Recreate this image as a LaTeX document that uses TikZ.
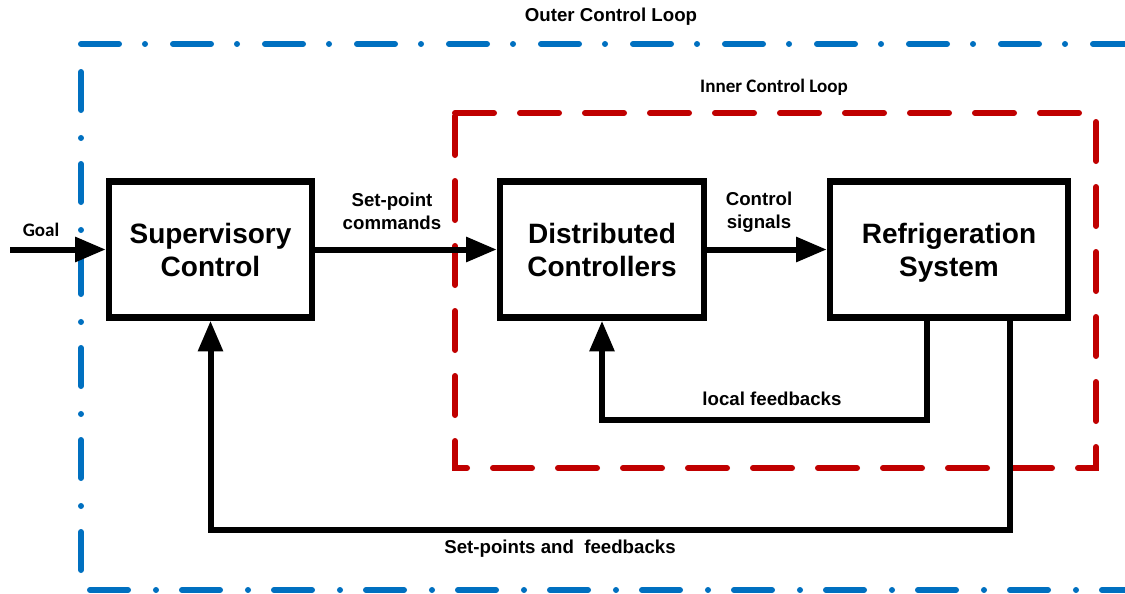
\documentclass[tikz,border=0pt]{standalone}
\usepackage{fontspec}
\setmainfont{Liberation Sans}
\newfontfamily\calfont{Carlito}
\usetikzlibrary{arrows.meta,calc}
\definecolor{loopblue}{HTML}{0070C0}
\definecolor{loopred}{HTML}{C00000}
\begin{document}
\begin{tikzpicture}[x=0.75pt,y=-0.75pt,
  box/.style={draw, line width=4.9pt, minimum height=102pt, align=center, inner sep=0pt,
    text depth=0pt, font=\bfseries\fontsize{21}{24.75}\selectfont},
  lbl/.style={align=center, inner sep=0pt, font=\bfseries\fontsize{14}{17.25}\selectfont},
  clbl/.style={align=center, inner sep=0pt, font=\calfont\bfseries\fontsize{14.3}{17}\selectfont},
  conn/.style={line width=4.5pt, -{Triangle[length=23pt,width=18pt]}},
  bluepen/.style={loopblue, line width=4.5pt, line cap=round},
  blueloop/.style={bluepen, dash pattern=on 28.5pt off 19.5pt on 0.01pt off 20.99pt},
  redloop/.style={loopred, line width=4.5pt, line cap=round, dash pattern=on 29.25pt off 19.5pt}
]
\clip (0,0) rectangle (1125,593);
% outer loop (blue dash-dot)
\coordinate (ob1) at (81,44);
\coordinate (ob2) at (1140,44);
\coordinate (ob3) at (81,570);
\coordinate (ob4) at (81,60);
\coordinate (ob5) at (1140,590);
\coordinate (ob6) at (81,590);
\draw[blueloop] (ob1) -- (ob2);
\draw[blueloop] (ob3) -- (ob4);
\draw[blueloop] (ob5) -- (ob6);
% inner loop (red dashed)
\draw[redloop] (455,113) -- (1096,113) -- (1096,468) -- (455,468) -- cycle;
% blocks
\node[box, minimum width=152.25pt] (SC) at (210.5,249.5) {Supervisory\\Control};
\node[box, minimum width=153pt] (DC) at (602,249.5) {Distributed\\Controllers};
\node[box, minimum width=178.5pt] (RS) at (949,249.5) {Refrigeration\\System};
% connectors
\coordinate (start) at (10,249.5);
\draw[conn] (start) -- (SC.west);
\draw[conn] (SC) -- (DC);
\draw[conn] (DC) -- (RS);
\coordinate (lf) at (760,420);
\draw[conn] ($(RS.south)+(-22,0)$) |- (lf) -| (DC.south);
\coordinate (obk) at (600,530);
\draw[conn] ($(RS.south)+(61,0)$) |- (obk) -| (SC.south);
% labels
\node[lbl] (outerlbl) at (611,17) {Outer Control Loop};
\node[clbl] (innerlbl) at (774,87) {Inner Control Loop};
\node[clbl] (goallbl) at (41,230) {Goal};
\node[lbl] (splbl) at (392,211) {Set-point\\commands};
\node[lbl] (cslbl) at (759,212) {Control\\signals};
\node[lbl] (lflbl) at (772,399) {local feedbacks};
\node[lbl] (oblbl) at (560,549) {Set-points and\ \ feedbacks};
\end{tikzpicture}
\end{document}
